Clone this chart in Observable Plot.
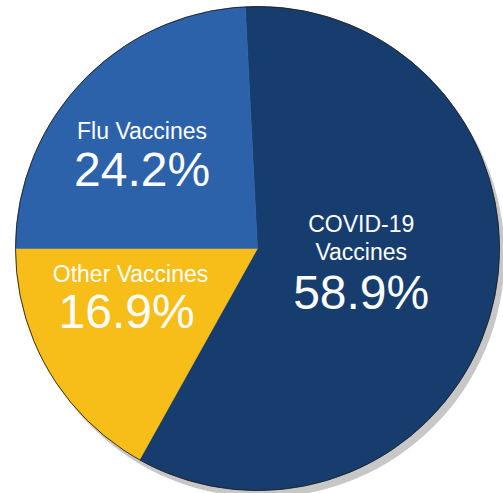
<!DOCTYPE html>
<html>
<head>
<meta charset="utf-8">
<script src="https://cdn.jsdelivr.net/npm/d3@7"></script>
<script src="https://cdn.jsdelivr.net/npm/@observablehq/plot@0.6"></script>
<style>
  html, body { margin: 0; padding: 0; background: #fff; }
  #chart svg { display: block; }
</style>
</head>
<body>
<div id="chart"></div>
<script>
// ---- data ----
const categories = ["COVID-19 Vaccines", "Other Vaccines", "Flu Vaccines"];
const values = [58.9, 16.9, 24.2];
const nameLabels = ["COVID-19\nVaccines", "Other Vaccines", "Flu Vaccines"];
const valueLabels = ["58.9%", "16.9%", "24.2%"];
const colors = ["#173d6f", "#f7bd19", "#2c62aa"];

// ---- layout (angles from data) ----
const total = d3.sum(values);
const fluIdx = 2; // flu slice begins at the 9 o'clock position
const before = d3.sum(values.slice(0, fluIdx));
const startAngle = 1.5 * Math.PI - before / total * 2 * Math.PI;
const arcs = d3.pie().sort(null).startAngle(startAngle).endAngle(startAngle + 2 * Math.PI)(values);

const pts = [];
arcs.forEach((a, i) => {
  const name = categories[i];
  pts.push({name, x: 0, y: 0});
  const n = Math.max(2, Math.ceil((a.endAngle - a.startAngle) / (Math.PI / 360)));
  for (let k = 0; k <= n; k++) {
    const t = a.startAngle + (a.endAngle - a.startAngle) * k / n;
    pts.push({name, x: Math.sin(t), y: Math.cos(t)});
  }
  pts.push({name, x: 0, y: 0});
});

// label styling: anchor on the slice's mid-angle, pixel offsets for each line
const R = 242;
const labelR = [0.44, 0.57, 0.59];
const nameOffset = [[0, -13], [-8, -36], [-12, -11]];
const valueOffset = [[0, 36], [-12, 10], [-12, 36]];
const nameRows = [], valueRows = [];
arcs.forEach((a, i) => {
  const m = (a.startAngle + a.endAngle) / 2;
  const ax = labelR[i] * Math.sin(m), ay = labelR[i] * Math.cos(m);
  nameRows.push({text: nameLabels[i], x: ax + nameOffset[i][0] / R, y: ay - nameOffset[i][1] / R});
  valueRows.push({text: valueLabels[i], x: ax + valueOffset[i][0] / R, y: ay - valueOffset[i][1] / R});
});

const chart = Plot.plot({
  width: 503,
  height: 493,
  marginLeft: 15,
  marginRight: 4,
  marginTop: 6,
  marginBottom: 3,
  x: {domain: [-1, 1], axis: null},
  y: {domain: [-1, 1], axis: null},
  color: {domain: categories, range: colors},
  style: {fontFamily: "'Liberation Sans', Arial, sans-serif", background: "#fff"},
  marks: [
    Plot.dot([0], {x: () => 0, y: () => 0, r: R, fill: "#000", fillOpacity: 0.22, stroke: null, dx: 5, dy: 7, ariaLabel: "shadow"}),
    Plot.line(pts, {x: "x", y: "y", z: "name", fill: "name", stroke: "name", strokeWidth: 0.5, curve: "linear"}),
    Plot.dot([0], {x: () => 0, y: () => 0, r: R, fill: "none", stroke: "#222", strokeWidth: 0.9}),
    Plot.text(nameRows, {x: "x", y: "y", text: "text", fill: "#fff", fontSize: 23, lineHeight: 1.22, lineAnchor: "bottom"}),
    Plot.text(valueRows, {x: "x", y: "y", text: "text", fill: "#fff", fontSize: 48, lineAnchor: "bottom", ariaLabel: "values"})
  ]
});
document.getElementById("chart").appendChild(chart);

// soft shadow via an SVG blur filter
const svg = d3.select(chart);
const defs = svg.insert("defs", ":first-child");
defs.append("filter").attr("id", "pie-shadow").attr("x", "-20%").attr("y", "-20%").attr("width", "140%").attr("height", "140%")
  .append("feGaussianBlur").attr("stdDeviation", 5);
svg.select("g[aria-label=shadow]").attr("filter", "url(#pie-shadow)");
</script>
</body>
</html>
